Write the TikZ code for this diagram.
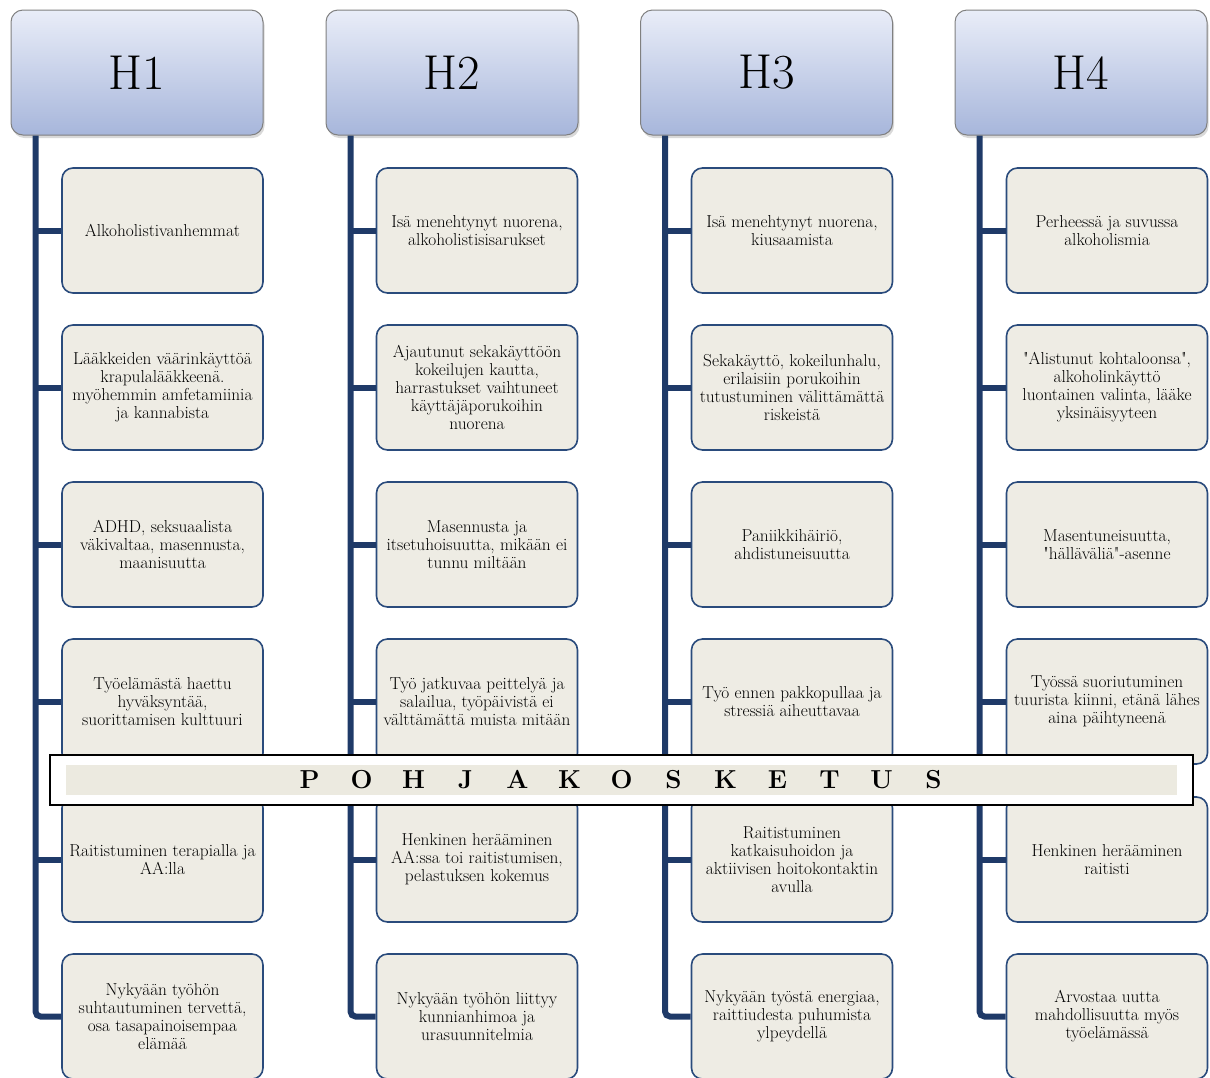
\documentclass[tikz,border=0pt]{standalone}
\usepackage{tikz}
\usetikzlibrary{positioning,shadows}
\definecolor{HeadTop}{HTML}{E9EDF8}
\definecolor{HeadBottom}{HTML}{A7B6DB}
\definecolor{HeadLine}{HTML}{808080}
\definecolor{ItemFill}{HTML}{EEECE4}
\definecolor{ItemLine}{HTML}{2A4B7C}
\definecolor{SpineBlue}{HTML}{1F3A68}
\definecolor{StripFill}{HTML}{ECEAE0}
\tikzset{
  headbox/.style={draw=HeadLine, line width=1pt, rounded corners=12pt,
    top color=HeadTop, bottom color=HeadBottom,
    minimum width=252pt, minimum height=125pt,
    font=\fontsize{49}{52}\selectfont,
    drop shadow={opacity=0.3, shadow xshift=1.5pt, shadow yshift=-3pt}},
  itembox/.style={draw=ItemLine, line width=1.6pt, fill=ItemFill,
    rounded corners=11pt, minimum width=201pt, minimum height=125pt,
    inner sep=2pt, align=center, font=\fontsize{17.3}{18}\selectfont},
  spine/.style={draw=SpineBlue, line width=6pt},
}
\begin{document}
\begin{tikzpicture}[x=1pt,y=-1pt]
\clip (0,0) rectangle (1210,1077);

% column headers
\node[headbox] (h1) at (137,72.5) {H1};
\node[headbox] (h2) at (452,72.5) {H2};
\node[headbox] (h3) at (766.5,72.5) {H3};
\node[headbox] (h4) at (1081,72.5) {H4};

% H1
\node[itembox] (h1-1) at (162.5,230.5) {Alkoholistivanhemmat};
\node[itembox] (h1-2) at (162.5,387.5) {Lääkkeiden väärinkäyttöä\\krapulalääkkeenä.\\myöhemmin amfetamiinia\\ja kannabista};
\node[itembox] (h1-3) at (162.5,544.5) {ADHD, seksuaalista\\väkivaltaa, masennusta,\\maanisuutta};
\node[itembox] (h1-4) at (162.5,701.5) {Työelämästä haettu\\hyväksyntää,\\suorittamisen kulttuuri};
\node[itembox] (h1-5) at (162.5,859.5) {Raitistuminen terapialla ja\\AA:lla};
\node[itembox] (h1-6) at (162.5,1016.5) {Nykyään työhön\\suhtautuminen tervettä,\\osa tasapainoisempaa\\elämää};

% H2
\node[itembox] (h2-1) at (477,230.5) {Isä menehtynyt nuorena,\\alkoholistisisarukset};
\node[itembox] (h2-2) at (477,387.5) {Ajautunut sekakäyttöön\\kokeilujen kautta,\\harrastukset vaihtuneet\\käyttäjäporukoihin\\nuorena};
\node[itembox] (h2-3) at (477,544.5) {Masennusta ja\\itsetuhoisuutta, mikään ei\\tunnu miltään};
\node[itembox] (h2-4) at (477,701.5) {Työ jatkuvaa peittelyä ja\\salailua, työpäivistä ei\\välttämättä muista mitään};
\node[itembox] (h2-5) at (477,859.5) {Henkinen herääminen\\AA:ssa toi raitistumisen,\\pelastuksen kokemus};
\node[itembox] (h2-6) at (477,1016.5) {Nykyään työhön liittyy\\kunnianhimoa ja\\urasuunnitelmia};

% H3
\node[itembox] (h3-1) at (792,230.5) {Isä menehtynyt nuorena,\\kiusaamista};
\node[itembox] (h3-2) at (792,387.5) {Sekakäyttö, kokeilunhalu,\\erilaisiin porukoihin\\tutustuminen välittämättä\\riskeistä};
\node[itembox] (h3-3) at (792,544.5) {Paniikkihäiriö,\\ahdistuneisuutta};
\node[itembox] (h3-4) at (792,701.5) {Työ ennen pakkopullaa ja\\stressiä aiheuttavaa};
\node[itembox] (h3-5) at (792,859.5) {Raitistuminen\\katkaisuhoidon ja\\aktiivisen hoitokontaktin\\avulla};
\node[itembox] (h3-6) at (792,1016.5) {Nykyään työstä energiaa,\\raittiudesta puhumista\\ylpeydellä};

% H4
\node[itembox] (h4-1) at (1107,230.5) {Perheessä ja suvussa\\alkoholismia};
\node[itembox] (h4-2) at (1107,387.5) {\textquotedbl Alistunut kohtaloonsa\textquotedbl,\\alkoholinkäyttö\\luontainen valinta, lääke\\yksinäisyyteen};
\node[itembox] (h4-3) at (1107,544.5) {Masentuneisuutta,\\\textquotedbl hälläväliä\textquotedbl-asenne};
\node[itembox] (h4-4) at (1107,701.5) {Työssä suoriutuminen\\tuurista kiinni, etänä lähes\\aina päihtyneenä};
\node[itembox] (h4-5) at (1107,859.5) {Henkinen herääminen\\raitisti};
\node[itembox] (h4-6) at (1107,1016.5) {Arvostaa uutta\\mahdollisuutta myös\\työelämässä};

% spines and stubs
\foreach \c in {1,...,4}{
  \coordinate (s\c) at ([xshift=25pt]h\c.south west);
  \draw[spine, rounded corners=5pt] (s\c) |- (h\c-6.west);
  \foreach \r in {1,...,5}
    \draw[spine] (s\c |- h\c-\r.west) -- (h\c-\r.west);
}

% banner across the rows
\node[draw=black, line width=1.2pt, fill=white, inner sep=0pt,
  minimum width=1143pt, minimum height=50pt,
  drop shadow={opacity=0.25, shadow xshift=1pt, shadow yshift=-1pt}] (banner) at (621.5,780) {};
\node[fill=StripFill, inner sep=0pt, minimum width=1111pt, minimum height=30pt,
  font=\bfseries\fontsize{26}{30}\selectfont] (title) at (banner.center)
  {\foreach \ch in {P,O,H,J,A,K,O,S,K,E,T,U,S}{\makebox[52pt]{\ch}}};
\end{tikzpicture}
\end{document}
